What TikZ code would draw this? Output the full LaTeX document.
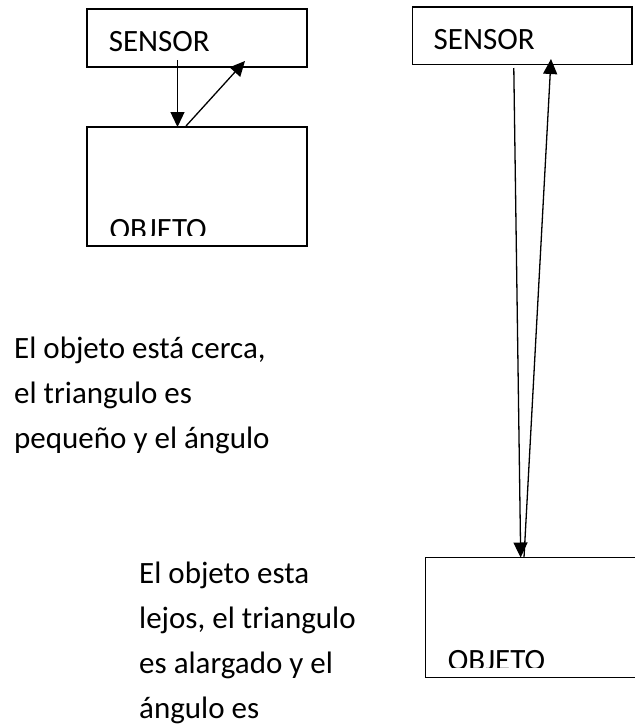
\documentclass[tikz,border=0pt]{standalone}
\usepackage{fontspec}
\setmainfont{Carlito}
\usetikzlibrary{arrows.meta}
\tikzset{
  box/.style={draw=black, line width=1.5pt, inner sep=0pt, fill=none},
  lbl/.style={inner sep=0pt, anchor=base west, font=\fontsize{31}{45}\selectfont},
  ray/.style={line width=1.3pt, -{Triangle[length=15pt,width=14pt]}},
}
\begin{document}
\begin{tikzpicture}[x=1pt,y=-1pt]
\clip (0,0) rectangle (635,724);
\fill[white] (0,0) rectangle (635,724);
% left (near) case
\node[box, minimum width=220pt, minimum height=58pt] (s1) at (197,38) {};
\node[box, minimum width=220pt, minimum height=119pt] (o1) at (197,186.5) {};
\node[lbl] (s1t) at (108.6,51.5) {SENSOR};
\begin{scope}
  \clip (88,128) rectangle (306,235);
  \node[lbl] (o1t) at (109.4,239.5) {OBJETO};
\end{scope}
\coordinate (a1s) at (177.5,60);
\coordinate (a1e) at (177.5,127);
\coordinate (b1s) at (186,126);
\coordinate (b1e) at (245,61);
\draw[ray] (a1s) -- (a1e);
\draw[ray] (b1s) -- (b1e);
% right (far) case
\node[box, minimum width=219.5pt, minimum height=57.6pt] (s2) at (522.25,35.8) {};
\node[box, minimum width=274.5pt, minimum height=120pt] (o2) at (562.75,617.5) {};
\node[lbl] (s2t) at (433.5,49) {SENSOR};
\begin{scope}
  \clip (427,559) rectangle (634,667);
  \node[lbl] (o2t) at (447.7,670.5) {OBJETO};
\end{scope}
\coordinate (a2s) at (513.8,68);
\coordinate (a2e) at (520.7,557.5);
\coordinate (b2s) at (524,557.5);
\coordinate (b2e) at (551,59);
\draw[ray] (a2s) -- (a2e);
\draw[ray] (b2s) -- (b2e);
% captions
\node[lbl] (near) at (14,358) {\begin{tabular}[t]{@{}l@{}}El objeto está cerca,\\ el triangulo es\\ pequeño y el ángulo\end{tabular}};
\node[lbl] (far) at (139,583) {\begin{tabular}[t]{@{}l@{}}El objeto esta\\ lejos, el triangulo\\ es alargado y el\\ ángulo es\end{tabular}};
\end{tikzpicture}
\end{document}
